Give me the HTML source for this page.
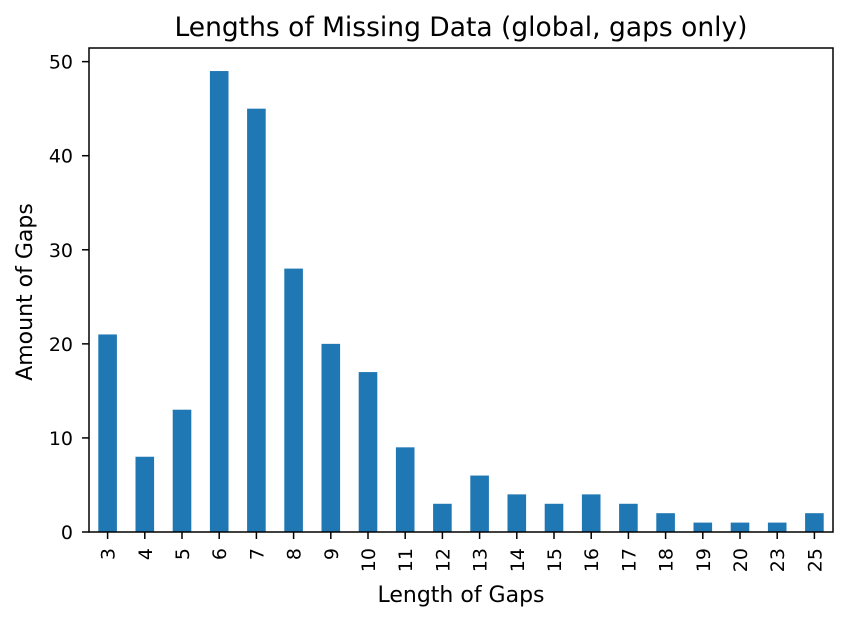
<!DOCTYPE html>
<html><head><meta charset="utf-8"><style>
body{margin:0;background:#fff;}
svg text{font-family:"DejaVu Sans","Liberation Sans",sans-serif;fill:#000;}
</style></head><body>
<svg id="chart" width="848" height="621" viewBox="0 0 848 621" xmlns="http://www.w3.org/2000/svg">
<text x="461" y="36" font-size="26.5" text-anchor="middle">Lengths of Missing Data (global, gaps only)</text>
<g id="bars"></g>
<g id="axes"></g>
<text x="461" y="602" font-size="22" text-anchor="middle">Length of Gaps</text>
<text transform="translate(32,292) rotate(-90)" font-size="22" text-anchor="middle">Amount of Gaps</text>
</svg>
<script>
const categories=["3","4","5","6","7","8","9","10","11","12","13","14","15","16","17","18","19","20","23","25"];
const values=[21,8,13,49,45,28,20,17,9,3,6,4,3,4,3,2,1,1,1,2];
const yTicks=[0,10,20,30,40,50];
const L=89,R=833,T=48,B=532,yMax=51.45;
const ns="http://www.w3.org/2000/svg";
const step=(R-L)/categories.length;
const xs=i=>L+(i+0.5)*step;
const ys=v=>B-(v/yMax)*(B-T);
const bars=document.getElementById('bars'),axes=document.getElementById('axes');
function mk(tag,attrs,parent){const e=document.createElementNS(ns,tag);for(const k in attrs)e.setAttribute(k,attrs[k]);parent.appendChild(e);return e;}
values.forEach((v,i)=>{
 const r=mk('rect',{x:xs(i)-step/4,y:ys(v),width:step/2,height:B-ys(v),fill:'#1f77b4'},bars);
 
 
 mk('line',{x1:xs(i),x2:xs(i),y1:B,y2:B+7,stroke:'#000','stroke-width':1.5},axes);
 const lb=mk('text',{transform:`translate(${xs(i)+7},${B+16}) rotate(-90)`,'font-size':19,'text-anchor':'end'},axes);
 lb.textContent=categories[i];
 
 
});
yTicks.forEach(v=>{
 mk('line',{x1:L-7,x2:L,y1:ys(v),y2:ys(v),stroke:'#000','stroke-width':1.5},axes);
 const lb=mk('text',{x:L-16,y:ys(v)+7,'font-size':19,'text-anchor':'end'},axes);
 lb.textContent=v;
 
 
});
const f=mk('rect',{x:L,y:T,width:R-L,height:B-T,fill:'none',stroke:'#000','stroke-width':1.5},axes);


</script>
</body></html>
